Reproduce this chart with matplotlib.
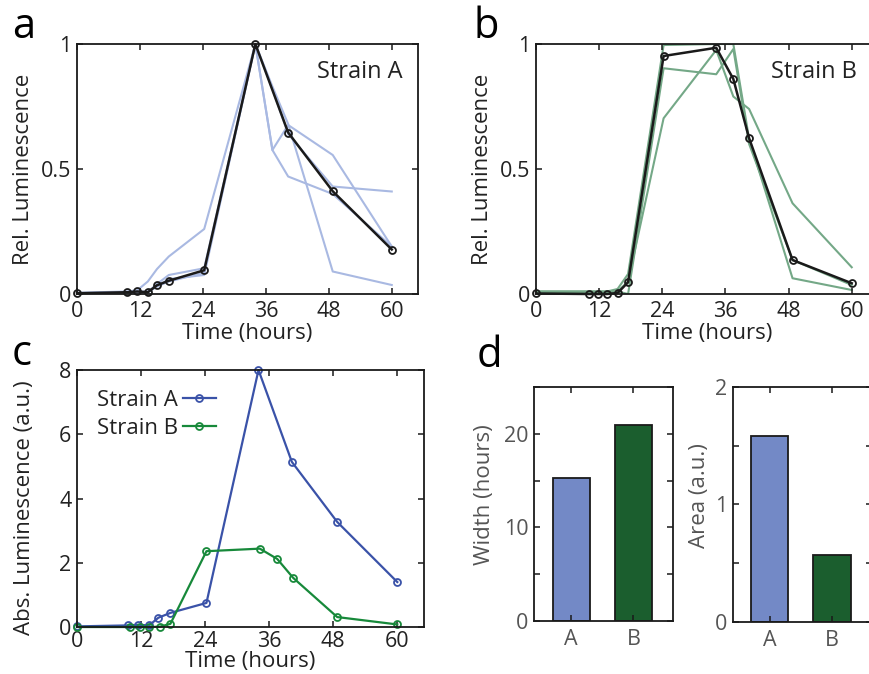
import numpy as np
import matplotlib
matplotlib.use('Agg')
import matplotlib.pyplot as plt

plt.rcParams['font.family'] = ['Open Sans', 'DejaVu Sans']

# ---- data ----
# panel a: strain A, normalised mean and replicates
time_a = [0, 9.5, 11.5, 13.5, 15.25, 17.5, 24.25, 34, 40.25, 48.75, 60]
mean_a = [0.003, 0.007, 0.01, 0.007, 0.035, 0.053, 0.095, 1.0, 0.646, 0.411, 0.178]
time_rep_a = [0, 9.5, 11.5, 13.5, 15.25, 17.5, 24.25, 34, 37.25, 40.25, 48.75, 60]
rep_a1 = [0.005, 0.01, 0.015, 0.05, 0.1, 0.15, 0.26, 1.0, 0.576, 0.47, 0.40, 0.19]
rep_a2 = [0.003, 0.008, 0.01, 0.01, 0.03, 0.06, 0.076, 1.0, 0.576, 0.676, 0.556, 0.19]
rep_a3 = [0.002, 0.006, 0.008, 0.008, 0.04, 0.076, 0.103, 1.0, 0.83, 0.68, 0.09, 0.036]
rep_a4 = [0.002, 0.005, 0.006, 0.006, 0.03, 0.05, 0.085, 1.0, 0.82, 0.64, 0.43, 0.41]

# panel b: strain B, normalised mean and replicates
time_b = [0, 10, 11.75, 13.5, 15.5, 17.5, 24.25, 34.25, 37.5, 40.5, 48.75, 60]
mean_b = [0.002, 0.0, 0.0, 0.0, 0.004, 0.047, 0.952, 0.985, 0.86, 0.623, 0.136, 0.043]
rep_b1 = [0.01, 0.01, 0.01, 0.01, 0.02, 0.08, 0.996, 1.0, 1.0, 0.62, 0.063, 0.016]
rep_b2 = [0.01, 0.01, 0.01, 0.01, 0.01, 0.0, 0.903, 0.879, 0.98, 0.60, 0.136, 0.036]
rep_b3 = [0.005, 0.005, 0.005, 0.005, 0.01, 0.05, 0.703, 0.976, 0.79, 0.74, 0.363, 0.107]

# panel c: absolute luminescence
abs_a = [0.02, 0.05, 0.07, 0.05, 0.29, 0.44, 0.75, 8.0, 5.14, 3.27, 1.40]
abs_b = [0.0, 0.0, 0.0, 0.0, 0.01, 0.10, 2.36, 2.44, 2.12, 1.53, 0.31, 0.08]

# panel d: peak width and area
strains = ['A', 'B']
width_hours = [15.3, 20.9]
area_au = [1.58, 0.57]

# ---- colours ----
light_blue = '#a9b9e2'
light_green = '#74a887'
line_blue = '#3a52a8'
line_green = '#17893a'
bar_blue = '#7389c6'
bar_green = '#1b5e2e'

TICK_FS = 15.5
LABEL_FS = 16

fig = plt.figure(figsize=(8.69, 6.74), dpi=100)

ax_a = fig.add_axes([0.0886, 0.5638, 0.3924, 0.3709])
ax_b = fig.add_axes([0.6168, 0.5638, 0.3936, 0.3709])
ax_c = fig.add_axes([0.0886, 0.0697, 0.3993, 0.3813])
ax_d1 = fig.add_axes([0.6145, 0.0786, 0.16, 0.3472])
ax_d2 = fig.add_axes([0.8435, 0.0772, 0.16, 0.3487])


def style_axes(ax, label_color='#222222'):
    for s in ax.spines.values():
        s.set_linewidth(1.3)
        s.set_color('#1a1a1a')
    ax.tick_params(direction='in', top=True, right=True, length=4, width=1.1,
                   labelsize=TICK_FS, colors='#1a1a1a', labelcolor=label_color)
    ax.tick_params(axis='y', pad=4)
    ax.tick_params(axis='x', pad=5)


# panel a
for rep in [rep_a1, rep_a2, rep_a3, rep_a4]:
    ax_a.plot(time_rep_a, rep, color=light_blue, lw=1.5, zorder=1)
ax_a.plot(time_a, mean_a, color='#1a1a1a', lw=1.8, marker='o', ms=5,
          mfc='none', mew=1.3, zorder=3, clip_on=False)
ax_a.text(0.955, 0.888, 'Strain A', transform=ax_a.transAxes, ha='right',
          va='center', fontsize=17, color='#222222')

# panel b
for rep in [rep_b1, rep_b2, rep_b3]:
    ax_b.plot(time_b, rep, color=light_green, lw=1.5, zorder=1)
ax_b.plot(time_b, mean_b, color='#1a1a1a', lw=1.8, marker='o', ms=5,
          mfc='none', mew=1.3, zorder=3, clip_on=False)
ax_b.text(0.939, 0.888, 'Strain B', transform=ax_b.transAxes, ha='right',
          va='center', fontsize=17, color='#222222')

for ax in [ax_a, ax_b]:
    ax.set_xlim(0, 65)
    ax.set_ylim(0, 1)
    ax.set_xticks(np.arange(0, 61, 12))
    ax.set_yticks([0, 0.5, 1])
    ax.set_yticklabels(['0', '0.5', '1'])
    ax.set_xlabel('Time (hours)', fontsize=LABEL_FS, color='#222222')
    ax.set_ylabel('Rel. Luminescence', fontsize=LABEL_FS, color='#222222')
    ax.xaxis.set_label_coords(0.5, -0.115)
    ax.yaxis.set_label_coords(-0.125, 0.5)
    style_axes(ax)

# panel c
ax_c.plot(time_a, abs_a, color=line_blue, lw=1.6, marker='o', ms=5,
          mfc='none', mew=1.3, label='Strain A', clip_on=False)
ax_c.plot(time_b, abs_b, color=line_green, lw=1.6, marker='o', ms=5,
          mfc='none', mew=1.3, label='Strain B', clip_on=False)
ax_c.set_xlim(0, 65)
ax_c.set_ylim(0, 8)
ax_c.set_xticks(np.arange(0, 61, 12))
ax_c.set_yticks(np.arange(0, 9, 2))
ax_c.set_xlabel('Time (hours)', fontsize=LABEL_FS, color='#222222')
ax_c.set_ylabel('Abs. Luminescence (a.u.)', fontsize=LABEL_FS, color='#222222')
style_axes(ax_c)
ax_c.tick_params(axis='x', pad=3)
ax_c.xaxis.set_label_coords(0.5, -0.095)
ax_c.yaxis.set_label_coords(-0.121, 0.463)
ax_c.legend(loc='upper left', frameon=False, markerfirst=False, fontsize=16,
            handlelength=1.5, handletextpad=0.2, labelspacing=0.3,
            bbox_to_anchor=(0.0, 1.0), labelcolor='#222222')

# panel d
ax_d1.bar([1, 2], width_hours, width=0.6, color=[bar_blue, bar_green],
          edgecolor='#1a1a1a', linewidth=1.3)
ax_d1.set_xlim(0.4, 2.64)
ax_d1.set_ylim(0, 25)
ax_d1.set_yticks(np.arange(0, 26, 5))
ax_d1.set_yticklabels(['0', '', '10', '', '20', ''])
ax_d1.set_ylabel('Width (hours)', fontsize=LABEL_FS, color='#555555')
ax_d1.yaxis.set_label_coords(-0.28, 0.538)

ax_d2.bar([1, 2], area_au, width=0.6, color=[bar_blue, bar_green],
          edgecolor='#1a1a1a', linewidth=1.3)
ax_d2.set_xlim(0.415, 2.64)
ax_d2.set_ylim(0, 2)
ax_d2.set_yticks(np.arange(0, 2.01, 0.5))
ax_d2.set_yticklabels(['0', '', '1', '', '2'])
ax_d2.set_ylabel('Area (a.u.)', fontsize=LABEL_FS, color='#555555')
ax_d2.yaxis.set_label_coords(-0.165, 0.536)

for ax in [ax_d1, ax_d2]:
    ax.set_xticks([1, 2])
    ax.set_xticklabels(strains)
    style_axes(ax, label_color='#555555')
    ax.tick_params(axis='x', pad=6)

# panel letters
fig.text(12 / 869, 1 - 38 / 674, 'a', fontsize=30, va='baseline')
fig.text(474 / 869, 1 - 38 / 674, 'b', fontsize=30, va='baseline')
fig.text(12 / 869, 1 - 365 / 674, 'c', fontsize=30, va='baseline')
fig.text(477 / 869, 1 - 367 / 674, 'd', fontsize=30, va='baseline')

fig.savefig('out.png', dpi=100)
